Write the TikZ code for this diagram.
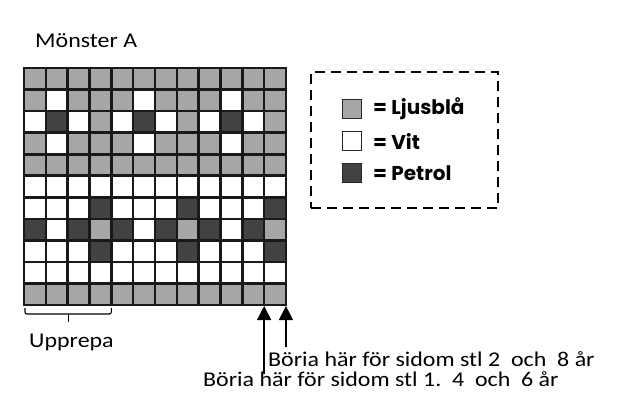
\documentclass[tikz,border=0pt]{standalone}
\usepackage{fontspec}
\setmainfont{Carlito}
\newfontfamily\txtfont{Carlito}[FakeStretch=1.14]
\newfontfamily\legfont{Poppins}
\usetikzlibrary{arrows.meta,calc}
\definecolor{gB}{HTML}{A6A6A6}
\definecolor{gD}{HTML}{424242}
\definecolor{gW}{HTML}{FFFFFF}
\tikzset{
  lbl/.style={font=\txtfont\fontsize{21}{24}\selectfont, inner sep=0pt, anchor=base west},
  legtxt/.style={font=\legfont\bfseries\fontsize{20}{24}\selectfont, inner sep=0pt, anchor=west},
  legsq/.style={draw=black!85, line width=1.8pt, minimum size=19pt, inner sep=0pt},
  startarrow/.style={line width=1.3pt, -{Triangle[length=14pt,width=14pt]}},
  gridline/.style={line width=2.6pt, draw=black!90},
}
\begin{document}
\begin{tikzpicture}[x=1pt,y=-1pt]
\useasboundingbox (0,0) rectangle (636,418);
\def\cw{21.83}
\def\ch{21.55}
% rows top to bottom
\def\rowA{B,B,B,B,B,B,B,B,B,B,B,B}
\def\rowB{B,W,B,B,B,W,B,B,B,W,B,B}
\def\rowC{W,D,W,B,W,D,W,B,W,D,W,B}
\def\rowE{W,W,W,W,W,W,W,W,W,W,W,W}
\def\rowF{W,W,W,D,W,W,W,D,W,W,W,D}
\def\rowG{D,W,D,B,D,W,D,B,D,W,D,B}
\foreach \r/\pat in {1/\rowA,2/\rowB,3/\rowC,4/\rowB,5/\rowA,6/\rowE,7/\rowF,8/\rowG,9/\rowF,10/\rowE,11/\rowA}{
  \edef\curlist{\pat}
  \foreach \c [count=\i] in \curlist {
    \fill[g\c] ({24+(\i-1)*\cw},{68+(\r-1)*\ch}) rectangle ++(\cw,\ch);
  }
}
\foreach \i in {0,...,12} \draw[gridline] ({24+\i*\cw},66.7) -- ({24+\i*\cw},{68+11*\ch+1.3});
\foreach \r in {0,...,11} \draw[gridline] (22.7,{68+\r*\ch}) -- ({24+12*\cw+1.3},{68+\r*\ch});

\node[lbl] (title) at (35,47) {Mönster A};

% brace
\coordinate (bl) at (25,308);
\coordinate (br) at ({24+4*\cw},308);
\draw[line width=1.1pt, rounded corners=2pt] (bl) -- ($(bl)+(0,6)$) -- ($(br)+(0,6)$) -- (br);
\coordinate (bm) at ({(25+24+4*\cw)/2},314);
\draw[line width=1.1pt] (bm) -- ($(bm)+(0,8)$);
\node[lbl] (upp) at (29,347) {Upprepa};

% arrows
\coordinate (t1) at ({24+11*\cw},306);
\coordinate (t2) at ({24+12*\cw},306);
\coordinate (s1) at ({24+11*\cw},374);
\coordinate (s2) at ({24+12*\cw},347);
\draw[startarrow] (s1) -- (t1);
\draw[startarrow] (s2) -- (t2);
\node[lbl] (st1) at (268,366) {Böria här för sidom stl 2\ \ och\ \ 8 år};
\node[lbl] (st2) at (203,386) {Böria här för sidom stl 1.\ \ 4\ \ och\ \ 6 år};

% legend
\node[draw, line width=1.8pt, dash pattern=on 10pt off 6pt, minimum width=187pt, minimum height=136pt, anchor=north west, inner sep=0pt] (leg) at (310,71) {};
\node[legsq, fill=gB] (q1) at (352,109) {};
\node[legsq, fill=gW] (q2) at (352,141) {};
\node[legsq, fill=gD] (q3) at (352,173) {};
\node[legtxt] (l1) at (373,109) {= Ljusblå};
\node[legtxt] (l2) at (373,141) {= Vit};
\node[legtxt] (l3) at (373,173) {= Petrol};
\end{tikzpicture}
\end{document}
